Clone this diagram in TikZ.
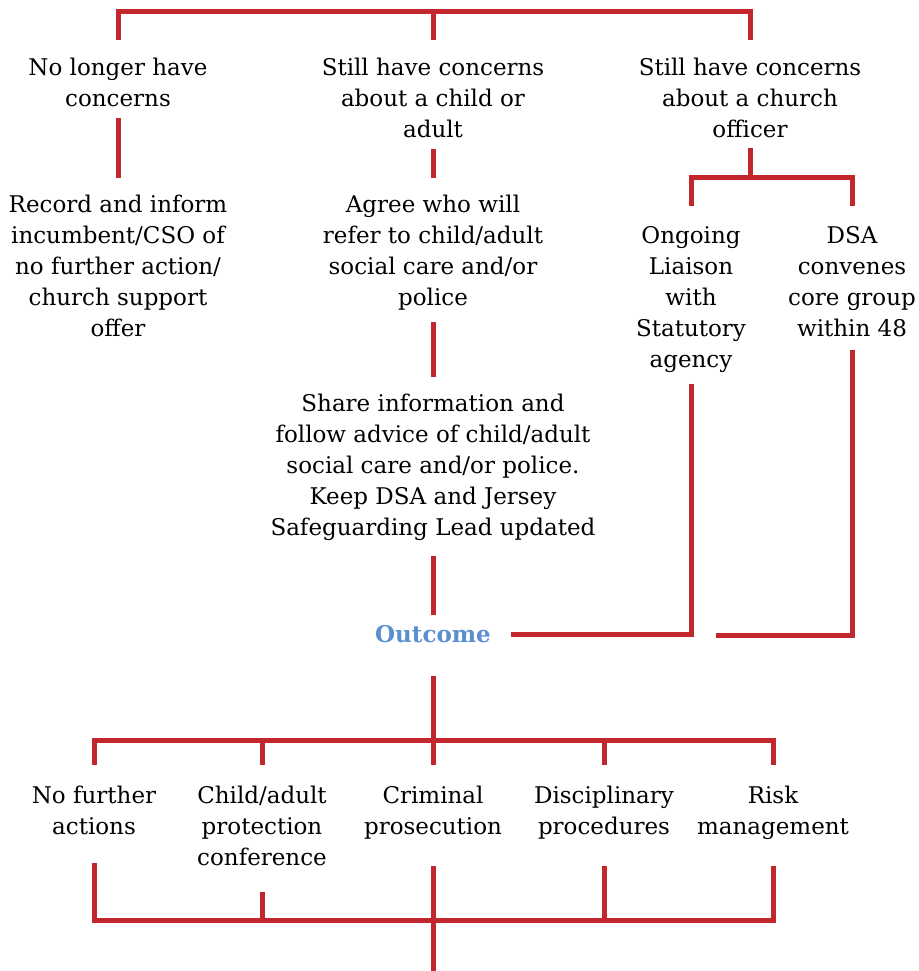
\documentclass[tikz,border=0pt]{standalone}
\usepackage{fontspec}
\setmainfont{DejaVu Serif}
\usepackage{tikz}
\usepackage{xcolor}
\definecolor{barred}{HTML}{C1272D}
\definecolor{outblue}{HTML}{5B8FCF}
\begin{document}
\begin{tikzpicture}[x=1pt,y=-1pt,
	box/.style={anchor=north,align=center,inner sep=0pt,font=\fontsize{23}{31}\selectfont},
	link/.style={draw=barred,line width=5pt}]
	\useasboundingbox (0,0) rectangle (918,971);
	\node[box] (nolonger) at (118,58) {No longer have\\concerns};
	\node[box] (childconc) at (433,58) {Still have concerns\\about a child or\\adult};
	\node[box] (officerconc) at (750,58) {Still have concerns\\about a church\\officer};
	\node[box] (record) at (118,195) {Record and inform\\incumbent/CSO of\\no further action/\\church support\\offer};
	\node[box] (agree) at (433,195) {Agree who will\\refer to child/adult\\social care and/or\\police};
	\node[box] (share) at (433,394) {Share information and\\follow advice of child/adult\\social care and/or police.\\Keep DSA and Jersey\\Safeguarding Lead updated};
	\node[box] (liaison) at (691,226) {Ongoing\\Liaison\\with\\Statutory\\agency};
	\node[box] (coregroup) at (852,226) {DSA\\convenes\\core group\\within 48};
	\node[box,anchor=center,font=\fontsize{23}{31}\selectfont\bfseries,text=outblue] (outcome) at (433,634) {Outcome};
	\node[box] (nfa) at (94,786) {No further\\actions};
	\node[box] (protect) at (262,786) {Child/adult\\protection\\conference};
	\node[box] (criminal) at (433,786) {Criminal\\prosecution};
	\node[box] (discip) at (604,786) {Disciplinary\\procedures};
	\node[box] (risk) at (773,786) {Risk\\management};
	\coordinate (top) at (433,12);
	\coordinate (split) at (750,177);
	\coordinate (joinR) at (716,635);
	\coordinate (obar) at (433,740);
	\coordinate (fbar) at (433,920);
	\coordinate (exit) at (433,975);
	\path[link]
	(nolonger.north) [shorten <=18pt,shorten >=18pt] |- (top) -| (officerconc.north);
	\path[link,shorten >=18pt] (top) -- (childconc.north);
	\path[link,shorten <=11pt,shorten >=17pt]
	(nolonger.south) edge (record.north)
	(childconc.south) edge (agree.north)
	(agree.south) edge (share.north);
	\path[link,shorten <=10pt] (officerconc.south) -- (split);
	\path[link,shorten <=20pt,shorten >=20pt] (liaison.north) |- (split) -| (coregroup.north);
	\path[link,shorten <=15pt,shorten >=10pt] (share.south) -- (outcome.north);
	\path[link,shorten <=11pt,shorten >=20pt] (liaison.south) |- (outcome.east);
	\path[link,shorten <=13pt] (coregroup.south) |- (joinR);
	\path[link,shorten <=33pt] (outcome.south) -- (obar);
	\path[link,shorten <=21pt,shorten >=21pt] (nfa.north) |- (obar) -| (risk.north);
	\path[link,shorten <=21pt] (protect.north) -- (protect.north |- obar);
	\path[link,shorten <=21pt] (criminal.north) -- (obar);
	\path[link,shorten <=21pt] (discip.north) -- (discip.north |- obar);
	\path[link,shorten <=28pt,shorten >=26pt] (nfa.south) |- (fbar) -| (risk.south);
	\path[link,shorten <=26pt] (protect.south) -- (protect.south |- fbar);
	\path[link,shorten <=26pt] (criminal.south) -- (exit);
	\path[link,shorten <=26pt] (discip.south) -- (discip.south |- fbar);
\end{tikzpicture}
\end{document}
